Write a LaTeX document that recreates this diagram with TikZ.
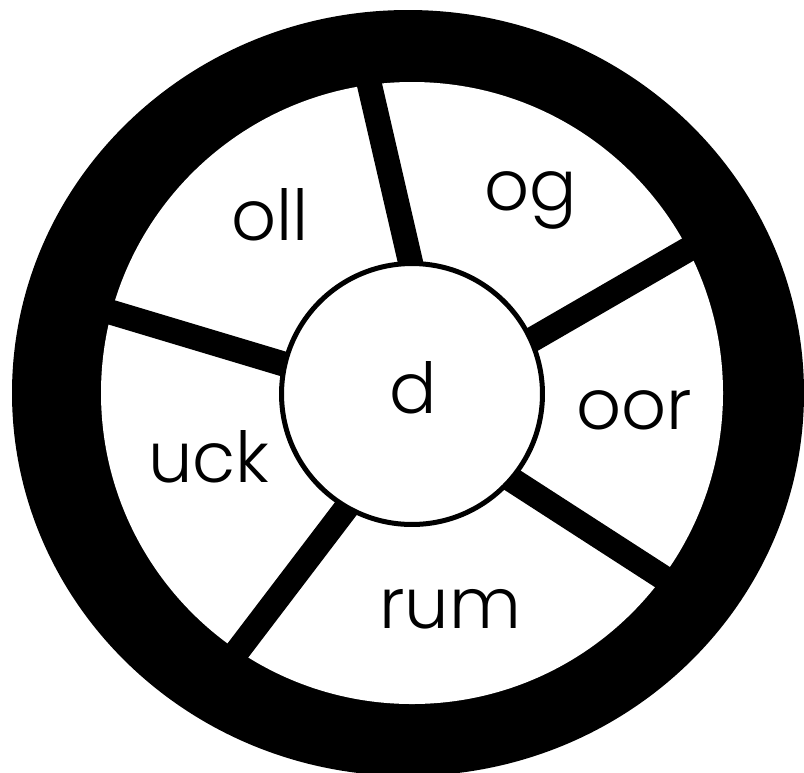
\documentclass[tikz,border=0pt]{standalone}
\usepackage{fontspec}
\setmainfont{Poppins}[UprightFont=* Light]
\usepackage{xcolor}
\usepackage{tikz}
\usetikzlibrary{positioning}
\definecolor{ink}{RGB}{0,0,0}
\definecolor{paper}{RGB}{255,255,255}
\tikzset{
  rim/.style={fill=ink},
  face/.style={fill=paper},
  spoke/.style={draw=ink,line width=0.5cm},
  hubnode/.style={circle,draw=ink,line width=0.1cm,fill=paper,minimum size=5.22cm,inner sep=0pt,
              font=\fontsize{40}{48}\selectfont},
  lbl/.style={anchor=base,inner sep=0pt,font=\fontsize{40}{48}\selectfont},
}
\begin{document}
\begin{tikzpicture}[x=0.02cm,y=-0.02cm]
  \useasboundingbox (0,0) rectangle (804,772);
  % wheel
  \fill[rim] (408,393) ellipse [x radius=396,y radius=383];
  \fill[face] (412,393) circle [radius=311];
  % spoke ends
  \coordinate (s1a) at (509,353); \coordinate (s1b) at (713,235);
  \coordinate (s2a) at (492,467); \coordinate (s2b) at (684,591);
  \coordinate (s3a) at (360,490); \coordinate (s3b) at (223,670);
  \coordinate (s4a) at (307,371); \coordinate (s4b) at (87,305);
  \coordinate (s5a) at (416,286); \coordinate (s5b) at (364,61);
  \foreach \s in {1,...,5}
    \draw[spoke] (s\s a) -- (s\s b);
  \node[hubnode] (hub) at (412,394) {};
  \node[lbl] (d) at (413,413) {d};
  \node[lbl] (oll) at (270,240) {oll};
  \node[lbl] (og) at (531,210) {og};
  \node[lbl] (oor) at (634,429) {oor};
  \node[lbl] (rum) at (450,628) {rum};
  \node[lbl] (uck) at (209,482) {uck};
\end{tikzpicture}
\end{document}
